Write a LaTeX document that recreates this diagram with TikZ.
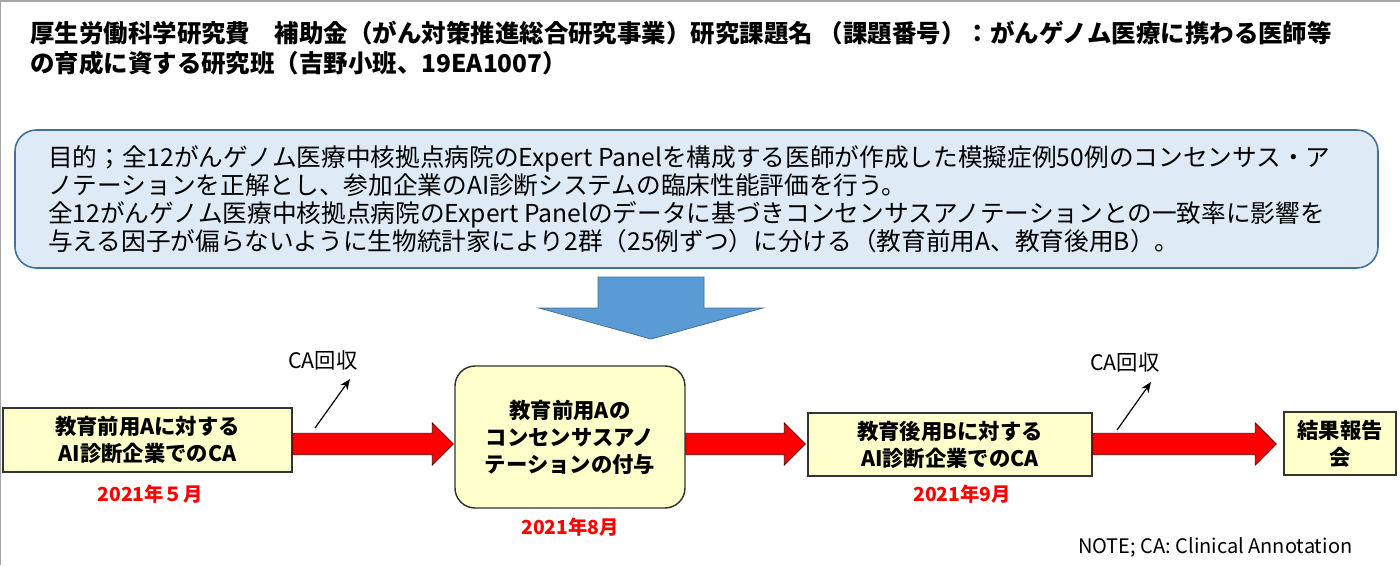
\documentclass[tikz,border=0pt]{standalone}
\usepackage{fontspec}
\setmainfont{Noto Sans CJK JP}
\usetikzlibrary{calc, arrows.meta}
\definecolor{goalfill}{HTML}{DEEBF7}
\definecolor{goalline}{HTML}{41719C}
\definecolor{downfill}{HTML}{5B9BD5}
\definecolor{boxfill}{HTML}{FFFFCC}
\definecolor{framegray}{HTML}{A6A6A6}
\definecolor{arrline}{HTML}{5F0000}
\tikzset{
  yelbox/.style={draw=black!80, fill=boxfill, line width=1.1pt, align=center,
    inner sep=0pt, font=\fontsize{16}{20.25}\selectfont\bfseries},
  redarr/.style={draw=arrline, fill=red, line width=0.6pt},
  datelbl/.style={text=red, font=\fontsize{14.5}{18}\selectfont\bfseries},
  calbl/.style={font=\fontsize{16}{19}\selectfont},
}
% red block arrow from #1 to #2 (both on the same height)
\newcommand{\redarrow}[2]{%
  \draw[redarr] let \p1=(#1), \p2=(#2) in
    (\x1,\y1+8pt) -- (\x2-15.75pt,\y1+8pt) -- (\x2-15.75pt,\y1+15.75pt)
    -- (\x2,\y1) -- (\x2-15.75pt,\y1-15.75pt) -- (\x2-15.75pt,\y1-8pt)
    -- (\x1,\y1-8pt) -- cycle;}

\begin{document}
\begin{tikzpicture}[>={Stealth[length=8pt, width=6.5pt]}, x=0.75pt, y=-0.75pt]
  \useasboundingbox (0,0) rectangle (1400,565);
  % frame
  \draw[framegray, line width=1.5pt] (0,565) -- (0,0.5) -- (1400,0.5);
  % title
  \node[anchor=north west, align=left, inner sep=0pt,
    font=\fontsize{18.35}{22.5}\selectfont\bfseries] (title) at (30,20.5)
    {厚生労働科学研究費　補助金（がん対策推進総合研究事業）研究課題名 （課題番号）：がんゲノム医療に携わる医師等\\
     の育成に資する研究班（吉野小班、19EA1007）};
  % purpose box
  \draw[goalline, fill=goalfill, line width=1.2pt, rounded corners=16pt]
    (15,130) rectangle (1378,268);
  \node[anchor=north west, align=left, inner sep=0pt,
    font=\fontsize{18.5}{21}\selectfont] (goal) at (48,145)
    {目的；全12がんゲノム医療中核拠点病院のExpert Panelを構成する医師が作成した模擬症例50例のコンセンサス・ア\\
     ノテーションを正解とし、参加企業のAI診断システムの臨床性能評価を行う。\\
     全12がんゲノム医療中核拠点病院のExpert Panelのデータに基づきコンセンサスアノテーションとの一致率に影響を\\
     与える因子が偏らないように生物統計家により2群（25例ずつ）に分ける（教育前用A、教育後用B）。};
  % down arrow
  \draw[goalline, fill=downfill, line width=0.6pt]
    (598,277) -- (704,277) -- (704,308) -- (763,308) -- (651,339)
    -- (539,308) -- (598,308) -- cycle;
  % flow boxes
  \node[yelbox, minimum width=216.75pt, minimum height=48pt] (preA) at (147.5,440)
    {教育前用Aに対する\\AI診断企業でのCA};
  \node[yelbox, rounded corners=15pt, minimum width=172.5pt, minimum height=106.5pt] (consA) at (570,437)
    {教育前用Aの\\コンセンサスアノ\\テーションの付与};
  \node[yelbox, minimum width=213pt, minimum height=47.25pt] (postB) at (950,444.5)
    {教育後用Bに対する\\AI診断企業でのCA};
  \node[yelbox, minimum width=84pt, minimum height=47.25pt] (report) at (1340,443.5)
    {結果報告\\会};
  % dates
  \node[datelbl] (d1) at (150,494) {2021年５月};
  \node[datelbl] (d2) at (570,527) {2021年8月};
  \node[datelbl] (d3) at (962,494) {2021年9月};
  % red arrows
  \coordinate (axis) at (0,444);
  \redarrow{preA.east |- axis}{$(consA.west |- axis)+(-1,0)$}
  \redarrow{consA.east |- axis}{$(postB.west |- axis)+(-2,0)$}
  \redarrow{postB.east |- axis}{$(report.west |- axis)+(-7,0)$}
  % CA collection
  \node[calbl] (ca1) at (323,360) {CA回収};
  \node[calbl] (ca2) at (1125,362) {CA回収};
  \coordinate (ca1s) at (315,428);
  \coordinate (ca1e) at (350,379);
  \coordinate (ca2s) at (1117,430);
  \coordinate (ca2e) at (1151,382);
  \draw[->, line width=0.9pt] (ca1s) -- (ca1e);
  \draw[->, line width=0.9pt] (ca2s) -- (ca2e);
  % note
  \node[anchor=east, font=\fontsize{15}{18}\selectfont] (note) at (1357,547)
    {NOTE; CA: Clinical Annotation};
\end{tikzpicture}
\end{document}
